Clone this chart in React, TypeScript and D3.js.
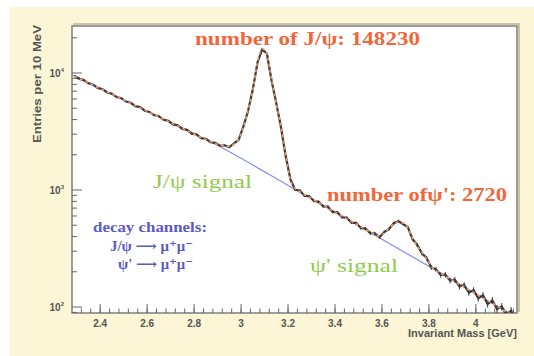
import React from "react";
import * as d3 from "d3";

// bin centres (GeV), 20 MeV apart
const massBins = [
  2.29, 2.31, 2.33, 2.35, 2.37, 2.39, 2.41, 2.43, 2.45, 2.47, 2.49, 2.51, 2.53, 2.55, 2.57, 2.59,
  2.61, 2.63, 2.65, 2.67, 2.69, 2.71, 2.73, 2.75, 2.77, 2.79, 2.81, 2.83, 2.85, 2.87, 2.89, 2.91,
  2.93, 2.95, 2.97, 2.99, 3.01, 3.03, 3.05, 3.07, 3.09, 3.11, 3.13, 3.15, 3.17, 3.19, 3.21, 3.23,
  3.25, 3.27, 3.29, 3.31, 3.33, 3.35, 3.37, 3.39, 3.41, 3.43, 3.45, 3.47, 3.49, 3.51, 3.53, 3.55,
  3.57, 3.59, 3.61, 3.63, 3.65, 3.67, 3.69, 3.71, 3.73, 3.75, 3.77, 3.79, 3.81, 3.83, 3.85, 3.87,
  3.89, 3.91, 3.93, 3.95, 3.97, 3.99, 4.01, 4.03, 4.05, 4.07, 4.09, 4.11, 4.13, 4.15, 4.17,
];

// measured entries per 10 MeV
const dataCounts = [
  9480, 8950, 8700, 8160, 7950, 7460, 7260, 6820, 6650, 6230, 6090, 5700, 5570, 5210, 5110, 4760,
  4650, 4350, 4270, 3980, 3900, 3640, 3570, 3330, 3270, 3030, 2990, 2770, 2740, 2560, 2530, 2390,
  2410, 2320, 2510, 2690, 3500, 4760, 7250, 12300, 15900, 14650, 8600, 5500, 3440, 1950, 1240, 1005,
  990, 895, 885, 805, 795, 725, 720, 650, 645, 585, 580, 528, 522, 474, 468, 428,
  425, 396, 436, 465, 520, 541, 513, 480, 381, 339, 288, 262, 218, 210, 188, 189,
  168, 171, 150, 154, 133, 139, 119, 126, 106, 114, 96, 101, 86, 93, 78,
];

// total fit (signal + background)
const fitCounts = [
  9408, 9009, 8610, 8231, 7880, 7532, 7198, 6880, 6588, 6296, 6020, 5764, 5508, 5265, 5042, 4819,
  4604, 4401, 4214, 4028, 3850, 3686, 3524, 3369, 3225, 3071, 2951, 2810, 2701, 2597, 2496, 2424,
  2377, 2354, 2474, 2729, 3452, 4830, 7160, 12420, 16100, 14530, 8710, 5430, 3390, 1990, 1217, 1030,
  970, 915, 868, 823, 780, 741, 703, 667, 632, 600, 568, 540, 512, 486, 460, 437,
  417, 404, 429, 473, 512, 533, 522, 473, 389, 332, 295, 257, 224, 204, 194, 183,
  174, 165, 156, 148, 140, 133, 126, 119, 113, 108, 102, 96, 91, 87, 82,
];

// background shape
const bgMass = [2.28, 2.6, 2.9, 3.0, 3.2, 3.4, 3.6, 3.8, 4.0, 4.175];
const bgCounts = [9634, 4716, 2410, 1866, 1095, 647, 379, 223, 130, 81];

const xTicks = [2.4, 2.6, 2.8, 3.0, 3.2, 3.4, 3.6, 3.8, 4.0];
const xTickLabels = ["2.4", "2.6", "2.8", "3", "3.2", "3.4", "3.6", "3.8", "4"];
const yDecades = [100, 1000, 10000];
const yDecadeExp = ["2", "3", "4"];

const W = 534;
const H = 356;
const L = 72;
const R = 517;
const T = 26;
const B = 313;

export default function App() {
  const x = d3.scaleLinear().domain([2.28, 4.175]).range([L, R]);
  const y = d3.scaleLog().domain([88.9, 25220]).range([B, T]);

  const pts = massBins.map((m, i) => ({ m, d: dataCounts[i], f: fitCounts[i] }));
  const dataLine = d3
    .line<any>()
    .x((p) => x(p.m))
    .y((p) => y(p.d));
  const fitLine = d3
    .line<any>()
    .x((p) => x(p.m))
    .y((p) => y(p.f))
    .curve(d3.curveMonotoneX);
  const bgLine = d3
    .line<number>()
    .x((m) => x(m))
    .y((_, i) => y(bgCounts[i]))
    .curve(d3.curveMonotoneX);

  const minorX = d3.range(2.32, 4.17, 0.04);
  const minorY: number[] = [];
  [10, 100, 1000, 10000].forEach((dec) => {
    for (let k = 2; k <= 9; k++) {
      const v = dec * k;
      if (v > 88.9 && v < 25220) minorY.push(v);
    }
  });

  const serif = "'Liberation Serif', 'DejaVu Serif', serif";
  const sans = "'Liberation Sans', Arial, sans-serif";
  const orange = "#f2673a";
  const green = "#8fcc4c";
  const blue = "#5a5cc4";

  return (
    <svg
      width={W}
      height={H}
      style={{ position: "absolute", left: 0, top: 0, background: "#fff" }}
    >
      <defs>
        <clipPath id="plot">
          <rect x={L} y={T} width={R - L} height={B - T} />
        </clipPath>
      </defs>
      <rect x={10} y={7} width={W - 10} height={H - 7} fill="#fcf6d6" />
      {/* frame shadow */}
      <rect x={L + 2} y={T - 2} width={R - L} height={B - T} fill="none" stroke="#c9c4a8" strokeWidth={2} />
      <rect x={L} y={T} width={R - L} height={B - T} fill="#fff" stroke="#7d7d7d" strokeWidth={1.5} />

      {/* ticks */}
      <g stroke="#666" strokeWidth={1}>
        {xTicks.map((t) => (
          <line key={"xt" + t} x1={x(t)} x2={x(t)} y1={B} y2={B - 9} />
        ))}
        {minorX.map((t, i) => (
          <line key={"xm" + i} x1={x(t)} x2={x(t)} y1={B} y2={B - 4.5} />
        ))}
        {yDecades.map((t) => (
          <line key={"yt" + t} x1={L} x2={L + 10} y1={y(t)} y2={y(t)} />
        ))}
        {minorY.map((t) => (
          <line key={"ym" + t} x1={L} x2={L + 5} y1={y(t)} y2={y(t)} />
        ))}
      </g>

      <g clipPath="url(#plot)">
        <path d={bgLine(bgMass) || ""} fill="none" stroke="#7f90e0" strokeWidth={1.2} />
        <g stroke="#333" strokeWidth={1}>
          {pts.map((p, i) => {
            const e = Math.sqrt(p.d / 2);
            return (
              <line key={"e" + i} x1={x(p.m)} x2={x(p.m)} y1={y(p.d + e)} y2={y(Math.max(p.d - e, 1))} />
            );
          })}
        </g>
        <path d={dataLine(pts) || ""} fill="none" stroke="#3a3a3a" strokeWidth={2.2} />
        <path
          d={fitLine(pts) || ""}
          fill="none"
          stroke="#f59a6a"
          strokeWidth={1.6}
          strokeDasharray="3,3"
        />
      </g>

      {/* tick labels */}
      <g fontFamily={sans} fontWeight="bold" fontSize={10} fill="#555">
        {xTicks.map((t, i) => (
          <text key={"xl" + t} x={x(t)} y={327} textAnchor="middle">
            {xTickLabels[i]}
          </text>
        ))}
        {yDecades.map((t, i) => (
          <text key={"yl" + t} x={64} y={y(t) + 4} textAnchor="end">
            10
            <tspan fontSize={6} dy={-5}>
              {yDecadeExp[i]}
            </tspan>
          </text>
        ))}
        <text x={408} y={337} fontSize={10} textLength={109} lengthAdjust="spacingAndGlyphs">
          Invariant Mass [GeV]
        </text>
        <text
          transform={`translate(41,${143}) rotate(-90)`}
          fontSize={10}
          textLength={118}
          lengthAdjust="spacingAndGlyphs"
        >
          Entries per 10 MeV
        </text>
      </g>

      {/* annotations */}
      <g fontFamily={serif} fontWeight="bold" fill={orange}>
        <text x={195} y={45} fontSize={19} textLength={225} lengthAdjust="spacingAndGlyphs">
          number of J/ψ: 148230
        </text>
        <text x={327} y={201} fontSize={19} textLength={180} lengthAdjust="spacingAndGlyphs">
          number ofψ': 2720
        </text>
      </g>
      <g fontFamily={serif} fill={green}>
        <text x={153} y={188} fontSize={19} textLength={99} lengthAdjust="spacingAndGlyphs">
          J/ψ signal
        </text>
        <text x={310} y={272} fontSize={19} textLength={88} lengthAdjust="spacingAndGlyphs">
          ψ' signal
        </text>
      </g>
      <g fontFamily={serif} fontWeight="bold" fill={blue} fontSize={14}>
        <text x={93} y={232} textLength={114} lengthAdjust="spacingAndGlyphs">
          decay channels:
        </text>
        <text x={110} y={251} textLength={83} lengthAdjust="spacingAndGlyphs">
          J/ψ ⟶ μ⁺μ⁻
        </text>
        <text x={118} y={269} textLength={75} lengthAdjust="spacingAndGlyphs">
          ψ' ⟶ μ⁺μ⁻
        </text>
      </g>
    </svg>
  );
}
